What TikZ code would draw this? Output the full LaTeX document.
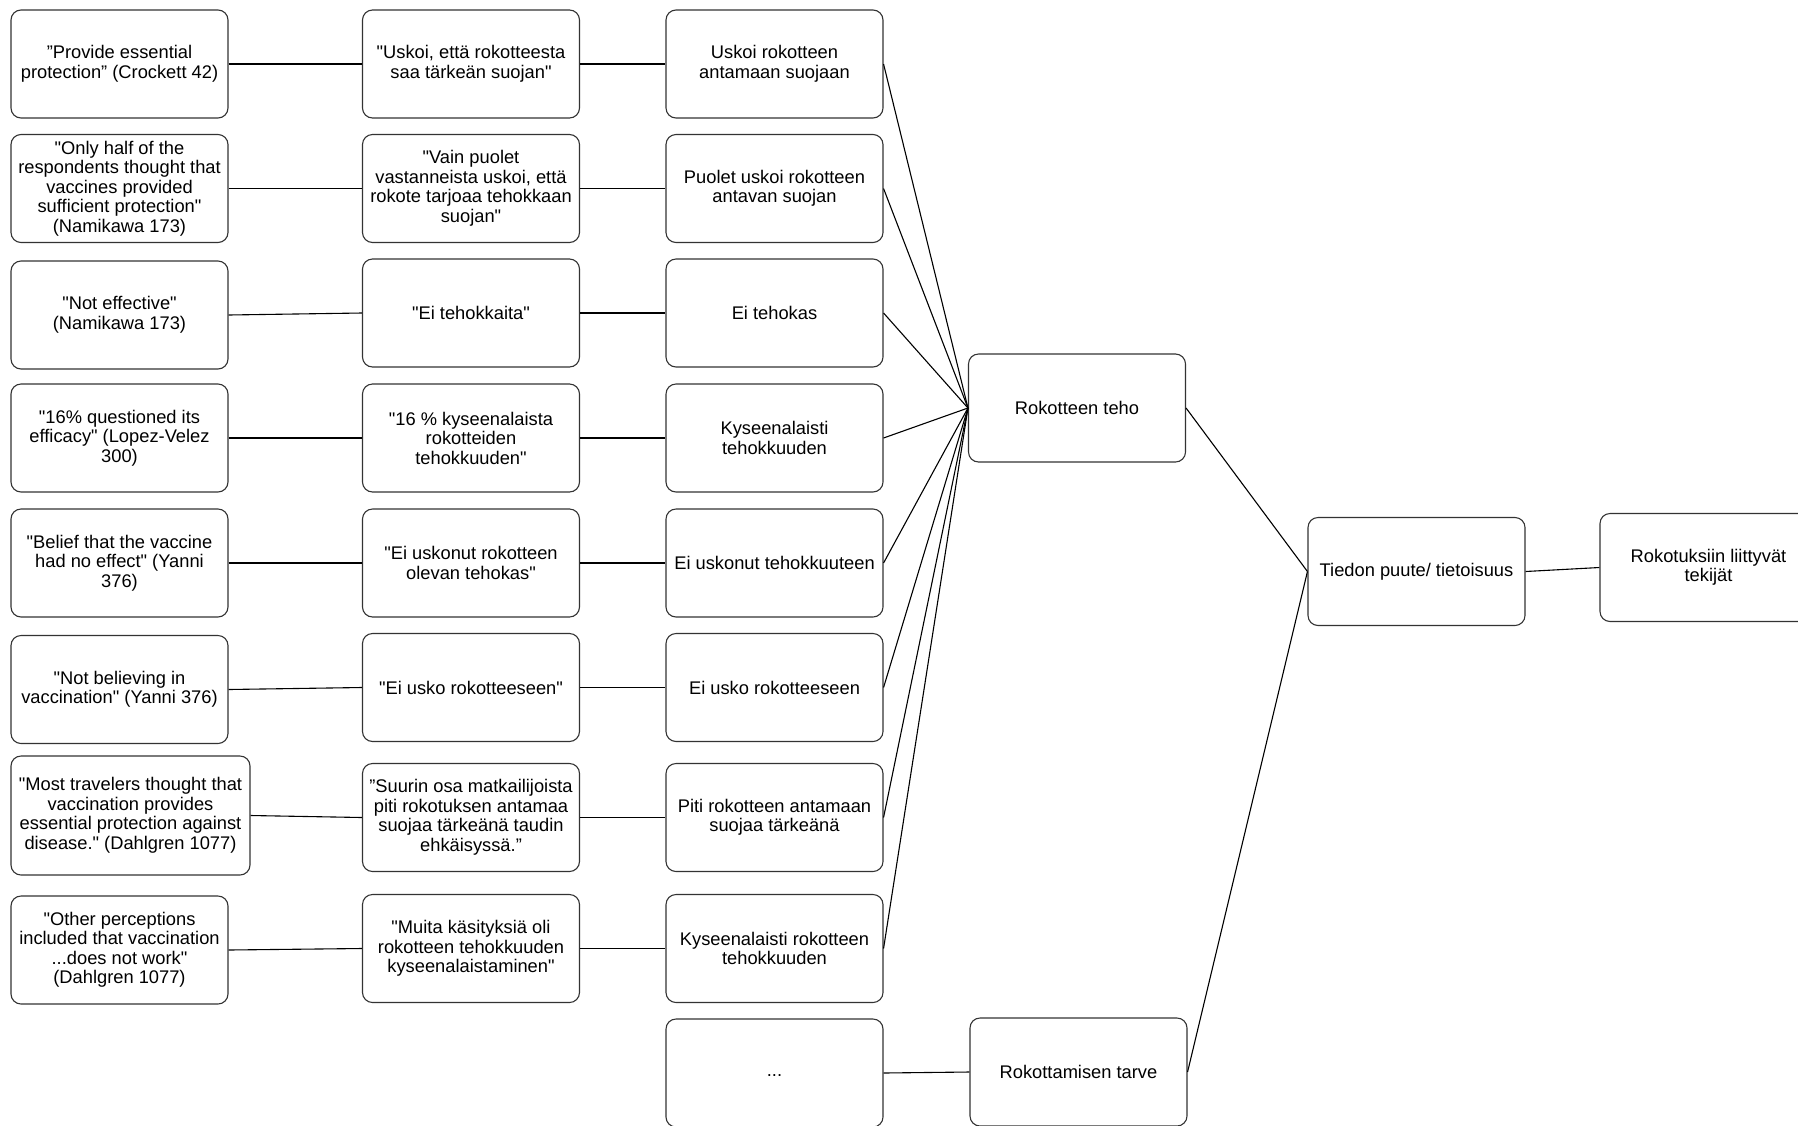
\documentclass[tikz,border=0pt]{standalone}
\usepackage{fontspec}
% straight quotes stay straight: no TeX ligature mapping
\setmainfont{Liberation Sans}[Ligatures=TeXOff]
\begin{document}
\begin{tikzpicture}[x=1pt,y=-1pt,
  box/.style={draw=black!80, line width=1.1pt, rounded corners=10pt,
    minimum width=217pt, minimum height=108pt, inner sep=2pt,
    align=center, font=\fontsize{18.3}{19.5}\selectfont},
  link/.style={draw=black, line width=1.1pt}]
\useasboundingbox (0,0) rectangle (1798,1125);
\clip (0,0) rectangle (1798,1125);

% source quotations
\node[box] (q1) at (119.5,64) {”Provide essential\\protection” (Crockett 42)};
\node[box] (q2) at (119.5,188.5) {"Only half of the\\respondents thought that\\vaccines provided\\sufficient protection"\\(Namikawa 173)};
\node[box] (q3) at (119.5,315) {"Not effective"\\(Namikawa 173)};
\node[box] (q4) at (119.5,438) {"16\% questioned its\\efficacy" (Lopez-Velez\\300)};
\node[box] (q5) at (119.5,563) {"Belief that the vaccine\\had no effect" (Yanni\\376)};
\node[box] (q6) at (119.5,689.5) {"Not believing in\\vaccination" (Yanni 376)};
\node[box, minimum width=239pt, minimum height=119pt] (q7) at (130.5,815.5) {"Most travelers thought that\\vaccination provides\\essential protection against\\disease." (Dahlgren 1077)};
\node[box] (q8) at (119.5,950) {"Other perceptions\\included that vaccination\\...does not work"\\(Dahlgren 1077)};

% translations
\node[box] (t1) at (471,64) {"Uskoi, että rokotteesta\\saa tärkeän suojan"};
\node[box] (t2) at (471,188.5) {"Vain puolet\\vastanneista uskoi, että\\rokote tarjoaa tehokkaan\\suojan"};
\node[box] (t3) at (471,313) {"Ei tehokkaita"};
\node[box] (t4) at (471,438) {"16 \% kyseenalaista\\rokotteiden\\tehokkuuden"};
\node[box] (t5) at (471,563) {"Ei uskonut rokotteen\\olevan tehokas"};
\node[box] (t6) at (471,687.5) {"Ei usko rokotteeseen"};
\node[box] (t7) at (471,817.5) {”Suurin osa matkailijoista\\piti rokotuksen antamaa\\suojaa tärkeänä taudin\\ehkäisyssä.”};
\node[box] (t8) at (471,948.5) {"Muita käsityksiä oli\\rokotteen tehokkuuden\\kyseenalaistaminen"};

% reduced expressions
\node[box] (r1) at (774.5,64) {Uskoi rokotteen\\antamaan suojaan};
\node[box] (r2) at (774.5,188.5) {Puolet uskoi rokotteen\\antavan suojan};
\node[box] (r3) at (774.5,313) {Ei tehokas};
\node[box] (r4) at (774.5,438) {Kyseenalaisti\\tehokkuuden};
\node[box] (r5) at (774.5,563) {Ei uskonut tehokkuuteen};
\node[box] (r6) at (774.5,687.5) {Ei usko rokotteeseen};
\node[box] (r7) at (774.5,817.5) {Piti rokotteen antamaan\\suojaa tärkeänä};
\node[box] (r8) at (774.5,948.5) {Kyseenalaisti rokotteen\\tehokkuuden};
\node[box] (r9) at (774.5,1073) {\strut...};

% categories
\node[box] (teho) at (1077,408) {Rokotteen teho};
\node[box] (tarve) at (1078.5,1072) {Rokottamisen tarve};
\node[box] (tieto) at (1416.5,571.5) {Tiedon puute/ tietoisuus};
\node[box] (main) at (1708.5,567.5) {Rokotuksiin liittyvät\\tekijät};

% connectors
\foreach \i in {1,...,8} {
  \draw[link] (q\i.east) -- (t\i.west);
  \draw[link] (t\i.east) -- (r\i.west);
  \draw[link] (r\i.east) -- (teho.west);
}
\draw[link] (r9.east) -- (tarve.west);
\draw[link] (teho.east) -- (tieto.west);
\draw[link] (tarve.east) -- (tieto.west);
\draw[link] (tieto.east) -- (main.west);
\end{tikzpicture}
\end{document}
